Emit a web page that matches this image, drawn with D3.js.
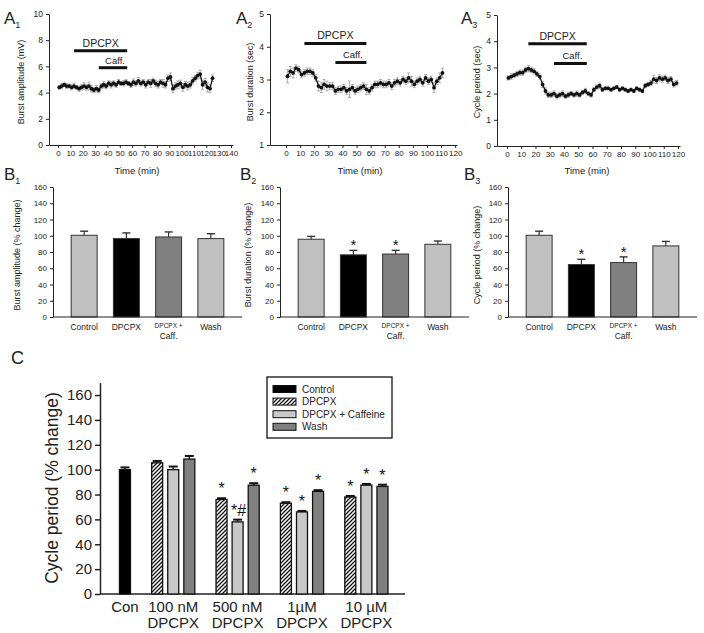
<!DOCTYPE html>
<html>
<head>
<meta charset="utf-8">
<title>DPCPX and caffeine</title>
<script src="https://cdn.jsdelivr.net/npm/d3@7"></script>
<style>
  body { margin: 0; background: #fff; }
  svg { font-family: "Liberation Sans", Arial, sans-serif; display: block; background: #fff; }
  .axis path, .axis line { stroke: #222; }
  .axis text { fill: #222; }
</style>
</head>
<body>
<svg id="chart" width="704" height="633"></svg>
<script>
// ---- panel A: time courses (min, value, sem) ----
const a1Time = [1,3,5,7,9,11,13,15,17,19,21,23,25,27,29,31,33,35,37,39,41,43,45,47,49,51,53,55,57,59,61,63,65,67,69,71,73,75,77,79,81,83,85,87,89,91,93,95,97,99,101,103,105,107,109,111,113,115,117,119,121,123,125];
const a1Val = [4.4,4.5,4.6,4.5,4.5,4.4,4.5,4.4,4.3,4.4, 4.5,4.4,4.5,4.3,4.2,4.3,4.2,4.5,4.6,4.5, 4.7,4.6,4.7,4.6,4.8,4.7,4.7,4.8,4.7,4.6, 4.8,4.7,4.9,4.7,4.8,4.6,4.8,4.7,4.9,4.7, 4.6,4.8,4.7,4.6,5.1,5.2,4.3,4.5,4.6,4.7, 4.4,4.6,4.5,4.6,4.9,5.1,5.3,5.4,4.6,4.8, 4.4,4.3,5.1];
const a1Err = [0.15,0.2,0.15,0.2,0.15,0.2,0.2,0.15,0.2,0.2, 0.25,0.2,0.3,0.25,0.2,0.25,0.2,0.2,0.25,0.2, 0.2,0.25,0.2,0.2,0.2,0.15,0.2,0.2,0.15,0.2, 0.25,0.2,0.25,0.2,0.2,0.25,0.2,0.3,0.2,0.25, 0.25,0.2,0.3,0.25,0.25,0.3,0.3,0.25,0.3,0.25, 0.3,0.25,0.3,0.25,0.25,0.2,0.25,0.3,0.35,0.3, 0.35,0.3,0.25];

const a2Time = [1,3,5,7,9,11,13,15,17,19,21,23,25,27,29,31,33,35,37,39,41,43,45,47,49,51,53,55,57,59,61,63,65,67,69,71,73,75,77,79,81,83,85,87,89,91,93,95,97,99,101,103,105,107,109,111];
const a2Val = [3.1,3.25,3.2,3.35,3.3,3.15,3.2,3.25,3.25,3.2, 3.05,2.8,2.75,2.85,2.8,2.8,2.8,2.65,2.7,2.7, 2.75,2.65,2.7,2.75,2.65,2.7,2.75,2.8,2.7,2.65, 2.75,2.85,2.85,2.9,2.85,2.85,2.9,2.8,2.9,2.95, 2.9,3.0,2.95,3.05,2.95,2.85,2.95,3.0,2.9,3.05, 2.95,3.0,2.75,2.95,3.05,3.2];
const a2Err = [0.2,0.15,0.15,0.1,0.1,0.1,0.1,0.1,0.1,0.1, 0.1,0.15,0.15,0.15,0.15,0.1,0.1,0.1,0.1,0.1, 0.1,0.1,0.25,0.1,0.1,0.1,0.1,0.1,0.15,0.1, 0.1,0.1,0.1,0.1,0.1,0.1,0.1,0.1,0.1,0.1, 0.1,0.1,0.1,0.15,0.15,0.1,0.1,0.1,0.1,0.1, 0.1,0.1,0.15,0.1,0.15,0.15];

const a3Time = [1,3,5,7,9,11,13,15,17,19,21,23,25,27,29,31,33,35,37,39,41,43,45,47,49,51,53,55,57,59,61,63,65,67,69,71,73,75,77,79,81,83,85,87,89,91,93,95,97,99,101,103,105,107,109,111,113,115,117,119];
const a3Val = [2.6,2.65,2.7,2.75,2.8,2.8,2.9,2.95,2.9,2.85, 2.75,2.65,2.35,2.1,1.95,1.95,2.0,1.9,1.95,2.0, 1.9,1.95,2.0,1.95,2.0,1.95,2.05,2.1,2.0,1.95, 2.15,2.25,2.3,2.15,2.2,2.2,2.15,2.2,2.25,2.15, 2.2,2.15,2.1,2.15,2.1,2.2,2.15,2.1,2.3,2.35, 2.4,2.55,2.5,2.6,2.55,2.6,2.5,2.55,2.35,2.4];
const a3Err = [0.08,0.1,0.08,0.1,0.1,0.1,0.1,0.12,0.1,0.1, 0.1,0.1,0.12,0.12,0.1,0.1,0.1,0.1,0.1,0.1, 0.08,0.1,0.08,0.08,0.1,0.08,0.08,0.1,0.08,0.08, 0.08,0.08,0.1,0.08,0.06,0.06,0.06,0.06,0.06,0.06, 0.06,0.06,0.06,0.06,0.06,0.06,0.06,0.06,0.08,0.08, 0.1,0.15,0.12,0.12,0.12,0.1,0.12,0.1,0.1,0.1];

// drug application periods [label, start, end, level]
const a1Drugs = [["DPCPX", 13, 56, 7.2], ["Caff.", 33, 56, 5.9]];
const a2Drugs = [["DPCPX", 13, 57, 4.1], ["Caff.", 35, 57, 3.52]];
const a3Drugs = [["DPCPX", 15, 56, 3.9], ["Caff.", 33, 56, 3.15]];

const a1Ticks = [0,10,20,30,40,50,60,70,80,90,100,110,120,130,140];
const a23Ticks = [0,10,20,30,40,50,60,70,80,90,100,110,120];

// ---- panel B: summary bars (% change) ----
const bCats = ["Control", "DPCPX", "DPCPX +|Caff.", "Wash"];
const bFills = ["#c0c0c0", "#000000", "#808080", "#c0c0c0"];
const b1Val = [100.6, 96.5, 98.5, 96.5];
const b1Err = [5, 7, 6.2, 6];
const b2Val = [95.7, 76.5, 77.5, 89.5];
const b2Err = [3.5, 5.5, 4.5, 4];
const b2Sig = ["", "*", "*", ""];
const b3Val = [100.6, 64.5, 67, 87.5];
const b3Err = [5, 6.5, 7, 5.5];
const b3Sig = ["", "*", "*", ""];
const bTicks = [0,20,40,60,80,100,120,140,160];

// ---- panel C: dose series (% change) ----
const cGroups = ["100 nM|DPCPX", "500 nM|DPCPX", "1\u00b5M|DPCPX", "10 \u00b5M|DPCPX"];
const cControl = 100, cControlErr = 1.8;
const cDpcpx = [105.5, 76, 73, 78];
const cDpcpxErr = [1.5, 1, 0.8, 0.8];
const cCaff = [100, 58, 66, 87.5];
const cCaffErr = [2.5, 1.8, 0.8, 1];
const cWash = [108.5, 87.5, 82.5, 86.5];
const cWashErr = [2.5, 1.6, 1, 1.4];
const cDpcpxSig = ["", "*", "*", "*"];
const cCaffSig = ["", "*#", "*", "*"];
const cWashSig = ["", "*", "*", "*"];
const cLegend = ["Control", "DPCPX", "DPCPX + Caffeine", "Wash"];
const cTicks = [0,20,40,60,80,100,120,140,160];

const svg = d3.select("#chart");

// hatch for DPCPX bars
svg.append("defs").append("pattern")
  .attr("id", "hatch")
  .attr("patternUnits", "userSpaceOnUse")
  .attr("width", 4).attr("height", 4)
  .call(function(p) {
    p.append("rect").attr("width", 4).attr("height", 4).attr("fill", "#fff");
    p.append("path")
      .attr("d", "M-1,1 l2,-2 M0,4 l4,-4 M3,5 l2,-2")
      .attr("stroke", "#111").attr("stroke-width", 1.3);
  });

function panelLetter(letter, sub, x, y, size) {
  const t = svg.append("text").attr("x", x).attr("y", y)
    .style("font-size", size + "px").attr("fill", "#222");
  t.append("tspan").text(letter);
  if (sub) t.append("tspan").attr("dy", 4).style("font-size", "9px").text(sub);
}

function timePanel(p) {
  const g = svg.append("g");
  const x = d3.scaleLinear().domain(p.xDomain).range(p.xRange);
  const y = d3.scaleLinear().domain(p.yDomain).range(p.yRange);

  g.append("g").attr("class", "axis")
    .attr("transform", "translate(0," + p.yRange[0] + ")")
    .call(d3.axisBottom(x).tickValues(p.xTicks).tickFormat(d3.format("d")).tickSize(3).tickSizeOuter(0).tickPadding(2))
    .call(a => a.selectAll("text").style("font-size", "8px").attr("font-family", null));
  g.append("g").attr("class", "axis")
    .attr("transform", "translate(" + p.xRange[0] + ",0)")
    .call(d3.axisLeft(y).tickValues(p.yTicks).tickFormat(d3.format("d")).tickSize(3).tickSizeOuter(0).tickPadding(3))
    .call(a => a.selectAll("text").style("font-size", "8.5px").attr("font-family", null));

  const pts = p.time.map((t, i) => ({ t: t, v: p.val[i], e: p.err[i] || 0 }));
  const eb = g.append("g").attr("stroke", "#9a9a9a").attr("stroke-width", 0.8);
  pts.forEach(function(d) {
    const cx = x(d.t);
    eb.append("line").attr("x1", cx).attr("x2", cx).attr("y1", y(d.v - d.e)).attr("y2", y(d.v + d.e));
    eb.append("line").attr("x1", cx - 1.5).attr("x2", cx + 1.5).attr("y1", y(d.v + d.e)).attr("y2", y(d.v + d.e));
    eb.append("line").attr("x1", cx - 1.5).attr("x2", cx + 1.5).attr("y1", y(d.v - d.e)).attr("y2", y(d.v - d.e));
  });
  g.append("path").datum(pts)
    .attr("fill", "none").attr("stroke", "#111").attr("stroke-width", 1.2)
    .attr("d", d3.line().x(d => x(d.t)).y(d => y(d.v)));
  g.selectAll("circle.pt").data(pts).enter().append("circle")
    .attr("class", "pt")
    .attr("cx", d => x(d.t)).attr("cy", d => y(d.v)).attr("r", 1.9)
    .attr("fill", "#111");

  p.drugs.forEach(function(d) {
    g.append("line")
      .attr("x1", x(d[1])).attr("x2", x(d[2]))
      .attr("y1", y(d[3])).attr("y2", y(d[3]))
      .attr("stroke", "#111").attr("stroke-width", 3);
    g.append("text")
      .attr("x", (x(d[1]) + x(d[2])) / 2 + (d[0] === "Caff." ? 2 : 0))
      .attr("y", y(d[3]) - 4)
      .attr("text-anchor", "middle")
      .style("font-size", d[0] === "Caff." ? "9.5px" : "10.5px")
      .attr("fill", "#222")
      .text(d[0]);
  });

  g.append("text")
    .attr("transform", "translate(" + p.yLabelX + "," + p.yLabelY + ") rotate(-90)")
    .attr("text-anchor", "middle").style("font-size", "9px").attr("fill", "#222")
    .text(p.yLabel);
  g.append("text")
    .attr("x", p.timeX).attr("y", 174)
    .attr("text-anchor", "middle").style("font-size", "9.5px").attr("fill", "#222")
    .text("Time (min)");
}

timePanel({ xDomain: [-7.3, 141.6], xRange: [49, 233], yDomain: [0, 10], yRange: [145, 14],
  xTicks: a1Ticks, yTicks: [0,2,4,6,8,10], time: a1Time, val: a1Val, err: a1Err, drugs: a1Drugs,
  yLabel: "Burst amplitude (mV)", yLabelX: 24, yLabelY: 82, timeX: 137 });
timePanel({ xDomain: [-11.4, 121.3], xRange: [270, 457], yDomain: [1, 5], yRange: [145, 14],
  xTicks: a23Ticks, yTicks: [1,2,3,4,5], time: a2Time, val: a2Val, err: a2Err, drugs: a2Drugs,
  yLabel: "Burst duration (sec)", yLabelX: 253, yLabelY: 82, timeX: 360 });
timePanel({ xDomain: [-7, 121.4], xRange: [497, 680], yDomain: [0, 5], yRange: [146, 15],
  xTicks: a23Ticks, yTicks: [0,1,2,3,4,5], time: a3Time, val: a3Val, err: a3Err, drugs: a3Drugs,
  yLabel: "Cycle period (sec)", yLabelX: 480, yLabelY: 82, timeX: 587 });

function barPanel(p) {
  const g = svg.append("g");
  const x = d3.scaleBand().domain(bCats).range(p.xRange).paddingInner(0.385).paddingOuter(0.43);
  const y = d3.scaleLinear().domain([0, 160]).range([317, 187]);

  g.append("g").attr("class", "axis")
    .attr("transform", "translate(" + p.xRange[0] + ",0)")
    .call(d3.axisLeft(y).tickValues(bTicks).tickSize(3).tickSizeOuter(0).tickPadding(3))
    .call(a => a.selectAll("text").style("font-size", "8px").attr("font-family", null));

  const rows = bCats.map((c, i) => ({ c: c, v: p.val[i], e: p.err[i], s: p.sig ? p.sig[i] : "", f: bFills[i] }));
  g.selectAll("rect.bar").data(rows).enter().append("rect")
    .attr("class", "bar")
    .attr("x", d => x(d.c)).attr("width", x.bandwidth())
    .attr("y", d => y(d.v)).attr("height", d => y(0) - y(d.v))
    .attr("fill", d => d.f).attr("stroke", "#333").attr("stroke-width", 1);
  rows.forEach(function(d) {
    const cx = x(d.c) + x.bandwidth() / 2;
    g.append("line").attr("x1", cx).attr("x2", cx).attr("y1", y(d.v)).attr("y2", y(d.v + d.e))
      .attr("stroke", "#333").attr("stroke-width", 1.2);
    g.append("line").attr("x1", cx - 4).attr("x2", cx + 4).attr("y1", y(d.v + d.e)).attr("y2", y(d.v + d.e))
      .attr("stroke", "#333").attr("stroke-width", 1.4);
    if (d.s) {
      g.append("text").attr("x", cx).attr("y", y(d.v + d.e))
        .attr("text-anchor", "middle").style("font-size", "15px").attr("fill", "#111").text(d.s);
    }
    const parts = d.c.split("|");
    if (parts.length > 1) {
      g.append("text").attr("x", cx).attr("y", 328).attr("text-anchor", "middle")
        .style("font-size", "6.5px").attr("fill", "#222").text(parts[0]);
      g.append("text").attr("x", cx).attr("y", 339).attr("text-anchor", "middle")
        .style("font-size", "8.5px").attr("fill", "#222").text(parts[1]);
    } else {
      g.append("text").attr("x", cx).attr("y", 330).attr("text-anchor", "middle")
        .style("font-size", "8.5px").attr("fill", "#222").text(parts[0]);
    }
  });
  g.append("line").attr("x1", p.xRange[0]).attr("x2", p.xRange[1]).attr("y1", y(0)).attr("y2", y(0))
    .attr("stroke", "#222");

  g.append("text")
    .attr("transform", "translate(" + p.yLabelX + ",255) rotate(-90)")
    .attr("text-anchor", "middle").style("font-size", "9px").attr("fill", "#222")
    .text(p.yLabel);
}

barPanel({ xRange: [53, 242], val: b1Val, err: b1Err, yLabel: "Burst amplitude (% change)", yLabelX: 20 });
barPanel({ xRange: [280, 469], val: b2Val, err: b2Err, sig: b2Sig, yLabel: "Burst duration (% change)", yLabelX: 251 });
barPanel({ xRange: [508, 697], val: b3Val, err: b3Err, sig: b3Sig, yLabel: "Cycle period (% change)", yLabelX: 480 });

// ---- panel C ----
(function() {
  const g = svg.append("g");
  // slot scale: Con at 0, each dose group takes 3 slots plus one empty slot
  const x = d3.scaleLinear().domain([-1.55, 17.4]).range([100, 405]);
  const y = d3.scaleLinear().domain([0, 170]).range([594, 382.6]);
  const bw = 11;

  g.append("g").attr("class", "axis")
    .attr("transform", "translate(100,0)")
    .call(d3.axisLeft(y).tickValues(cTicks).tickSize(5).tickSizeOuter(0).tickPadding(3))
    .call(a => a.selectAll("text").style("font-size", "15px").attr("font-family", null))
    .call(a => a.selectAll("path, line").attr("stroke-width", 1.5));
  g.append("line").attr("x1", 100).attr("x2", 405).attr("y1", y(0)).attr("y2", y(0))
    .attr("stroke", "#222").attr("stroke-width", 1.5);

  const bars = [{ s: 0, v: cControl, e: cControlErr, f: "#000", sig: "" }];
  cGroups.forEach(function(grp, i) {
    const base = 4 * (i + 1);
    bars.push({ s: base - 2, v: cDpcpx[i], e: cDpcpxErr[i], f: "url(#hatch)", sig: cDpcpxSig[i] });
    bars.push({ s: base - 1, v: cCaff[i], e: cCaffErr[i], f: "#c8c8c8", sig: cCaffSig[i] });
    bars.push({ s: base, v: cWash[i], e: cWashErr[i], f: "#808080", sig: cWashSig[i] });
  });

  g.selectAll("rect.cbar").data(bars).enter().append("rect")
    .attr("class", "cbar")
    .attr("x", d => x(d.s) - bw / 2).attr("width", bw)
    .attr("y", d => y(d.v)).attr("height", d => y(0) - y(d.v))
    .attr("fill", d => d.f).attr("stroke", "#111").attr("stroke-width", 1.3);
  bars.forEach(function(d) {
    const cx = x(d.s);
    g.append("line").attr("x1", cx).attr("x2", cx).attr("y1", y(d.v)).attr("y2", y(d.v + d.e))
      .attr("stroke", "#111").attr("stroke-width", 1.5);
    g.append("line").attr("x1", cx - 4.5).attr("x2", cx + 4.5).attr("y1", y(d.v + d.e)).attr("y2", y(d.v + d.e))
      .attr("stroke", "#111").attr("stroke-width", 2);
    if (d.sig) {
      g.append("text").attr("x", cx + (d.sig.length > 1 ? 1 : 0)).attr("y", y(d.v + d.e) - 4)
        .attr("text-anchor", "middle").style("font-size", "16px").attr("fill", "#111").text(d.sig);
    }
  });

  // category labels
  g.append("text").attr("x", x(0)).attr("y", 612).attr("text-anchor", "middle")
    .style("font-size", "15px").attr("fill", "#222").text("Con");
  cGroups.forEach(function(grp, i) {
    const parts = grp.split("|");
    const cx = x(4 * (i + 1) - 1);
    parts.forEach(function(t, j) {
      g.append("text").attr("x", cx).attr("y", 612 + j * 16).attr("text-anchor", "middle")
        .style("font-size", "15px").attr("fill", "#222").text(t);
    });
  });

  g.append("text")
    .attr("transform", "translate(58,488) rotate(-90)")
    .attr("text-anchor", "middle").style("font-size", "17.5px").attr("fill", "#222")
    .text("Cycle period (% change)");

  // legend
  const lg = g.append("g");
  lg.append("rect").attr("x", 267).attr("y", 377).attr("width", 125).attr("height", 61)
    .attr("fill", "#fff").attr("stroke", "#111").attr("stroke-width", 1.3);
  const legFills = ["#000", "url(#hatch)", "#c8c8c8", "#808080"];
  cLegend.forEach(function(name, i) {
    const cy = 389 + i * 12.6;
    lg.append("rect").attr("x", 273).attr("y", cy - 3.5).attr("width", 23).attr("height", 7)
      .attr("fill", legFills[i]).attr("stroke", "#111").attr("stroke-width", 1);
    lg.append("text").attr("x", 302).attr("y", cy + 3.6)
      .style("font-size", "10px").attr("fill", "#222").text(name);
  });
})();

panelLetter("A", "1", 4, 24, 17);
panelLetter("A", "2", 236, 24, 17);
panelLetter("A", "3", 461, 24, 17);
panelLetter("B", "1", 4, 180, 17);
panelLetter("B", "2", 240, 180, 17);
panelLetter("B", "3", 464, 180, 17);
panelLetter("C", "", 11, 364, 18);
</script>
</body>
</html>
